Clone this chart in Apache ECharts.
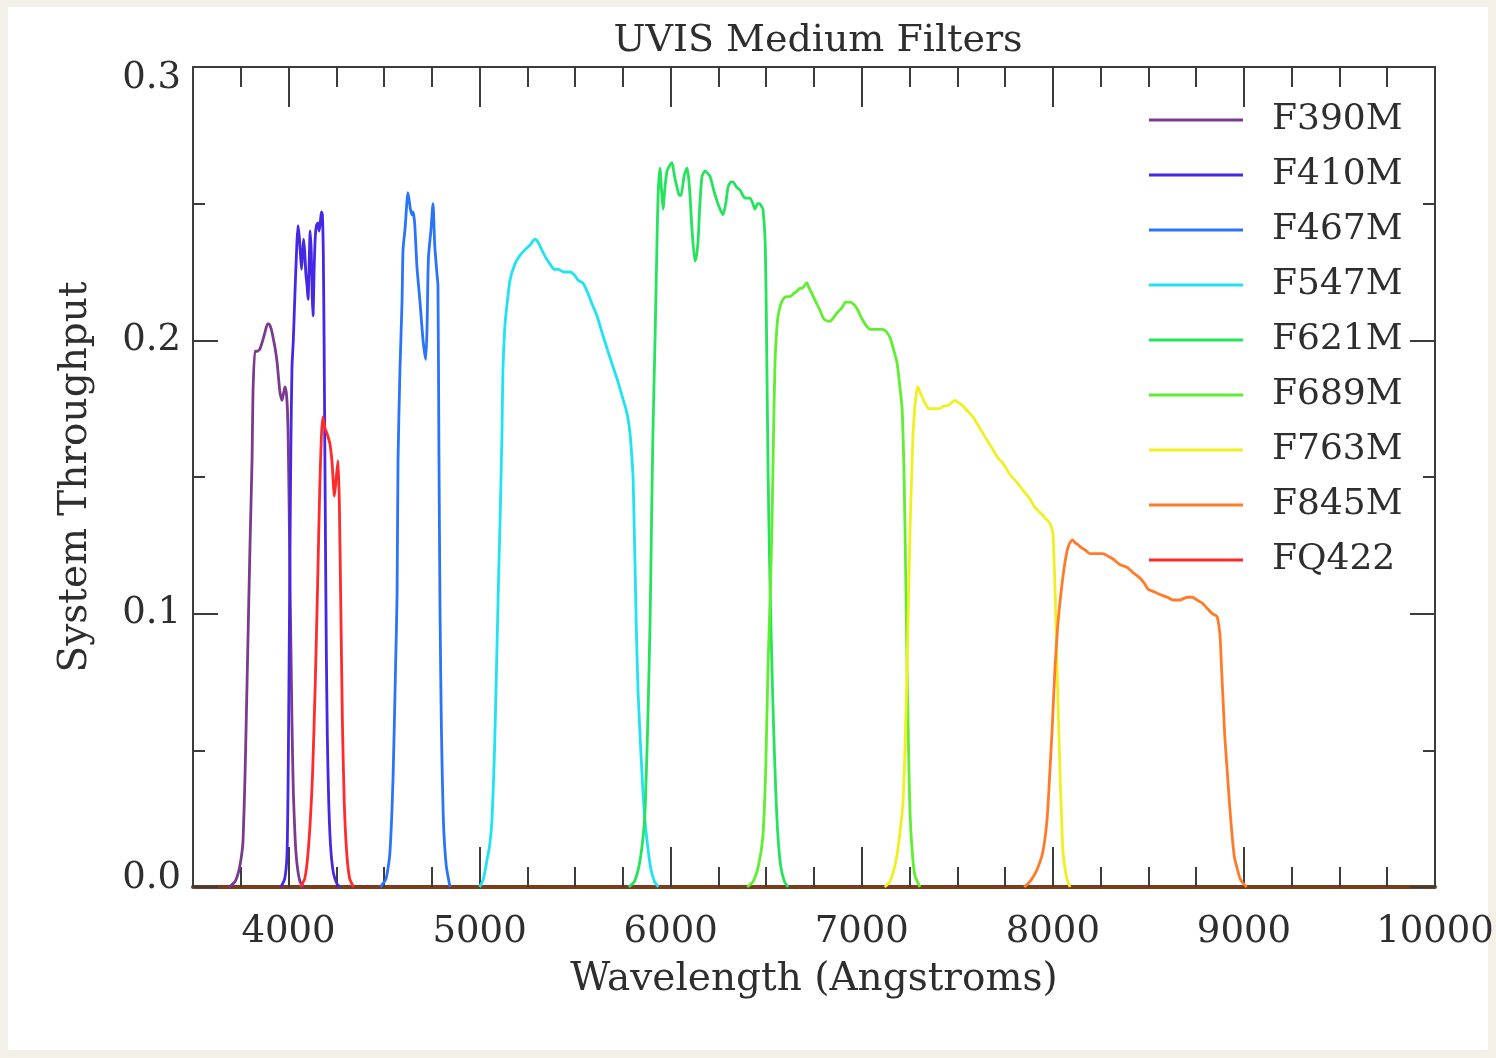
<!DOCTYPE html>
<html><head><meta charset="utf-8">
<script src="https://cdn.jsdelivr.net/npm/echarts@6/dist/echarts.min.js"></script>
<style>
html,body{margin:0;padding:0;background:#f3f0e8;}
#paper{position:absolute;left:8px;top:7px;width:1480px;height:1043px;background:#ffffff;}
#c{position:absolute;left:0;top:0;width:1496px;height:1058px;}
</style>
</head><body><div id="paper"></div><div id="c"></div><script>
// ---------- data ----------
const filterNames = ['F390M','F410M','F467M','F547M','F621M','F689M','F763M','F845M','FQ422'];
const filterColors = ['#7a3a8e','#4527e6','#2a74fa','#1fe3f0','#25e35c','#5fee30','#f0f020','#ff7b2a','#ff2b2b'];
const xMajorTicks = [4000,5000,6000,7000,8000,9000,10000];
const yTickLabels = ['0.0','0.1','0.2','0.3'];

const F390M = [[3690,0],[3720,0.002],[3740,0.006],[3755,0.012],[3762,0.017],[3772,0.04],[3783,0.075],[3798,0.124],[3809,0.156],[3814,0.181],[3824,0.196],[3837,0.196],[3851,0.197],[3865,0.2],[3877,0.203],[3890,0.206],[3898,0.206],[3910,0.204],[3919,0.201],[3930,0.197],[3940,0.192],[3955,0.181],[3966,0.178],[3975,0.181],[3981,0.183],[3988,0.181],[3994,0.175],[3998,0.165],[4003,0.14],[4008,0.11],[4013,0.085],[4018,0.06],[4025,0.035],[4035,0.017],[4045,0.008],[4060,0.002],[4080,0]];
const F410M = [[3960,0],[3980,0.003],[3992,0.012],[3998,0.04],[4005,0.1],[4012,0.16],[4018,0.19],[4025,0.2],[4030,0.21],[4036,0.222],[4044,0.236],[4050,0.242],[4056,0.238],[4062,0.232],[4068,0.226],[4074,0.232],[4079,0.237],[4085,0.232],[4091,0.224],[4097,0.22],[4102,0.215],[4108,0.228],[4113,0.24],[4119,0.232],[4124,0.216],[4128,0.209],[4134,0.226],[4140,0.238],[4146,0.242],[4154,0.243],[4160,0.24],[4166,0.243],[4172,0.247],[4177,0.246],[4182,0.232],[4186,0.2],[4190,0.16],[4194,0.12],[4198,0.085],[4203,0.055],[4210,0.032],[4220,0.015],[4235,0.005],[4255,0.001],[4270,0]];
const F467M = [[4480,0],[4510,0.003],[4530,0.012],[4547,0.04],[4560,0.08],[4568,0.107],[4573,0.156],[4583,0.189],[4594,0.214],[4599,0.233],[4610,0.241],[4625,0.254],[4638,0.248],[4646,0.246],[4651,0.247],[4660,0.243],[4672,0.227],[4688,0.214],[4704,0.2],[4718,0.193],[4725,0.205],[4732,0.23],[4746,0.241],[4756,0.25],[4765,0.235],[4776,0.225],[4782,0.22],[4787,0.16],[4793,0.1],[4800,0.058],[4810,0.025],[4825,0.008],[4845,0]];
const F547M = [[5000,0],[5020,0.003],[5039,0.01],[5052,0.015],[5065,0.025],[5078,0.05],[5091,0.088],[5100,0.115],[5107,0.134],[5117,0.166],[5122,0.189],[5132,0.205],[5143,0.213],[5159,0.222],[5185,0.228],[5210,0.231],[5235,0.233],[5265,0.235],[5290,0.237],[5305,0.236],[5326,0.233],[5348,0.23],[5368,0.228],[5390,0.226],[5410,0.226],[5440,0.225],[5473,0.225],[5495,0.224],[5515,0.222],[5540,0.221],[5562,0.218],[5590,0.213],[5614,0.209],[5640,0.203],[5667,0.197],[5695,0.191],[5719,0.186],[5740,0.181],[5761,0.176],[5775,0.172],[5787,0.166],[5796,0.158],[5803,0.15],[5808,0.135],[5813,0.119],[5820,0.095],[5829,0.072],[5840,0.055],[5850,0.041],[5862,0.027],[5876,0.017],[5895,0.007],[5915,0.002],[5935,0]];
const F621M = [[5780,0],[5810,0.002],[5835,0.008],[5855,0.018],[5866,0.028],[5880,0.06],[5892,0.097],[5900,0.135],[5907,0.166],[5918,0.2],[5926,0.228],[5934,0.253],[5944,0.263],[5952,0.255],[5960,0.248],[5970,0.256],[5981,0.262],[5995,0.264],[6007,0.265],[6020,0.26],[6033,0.256],[6045,0.253],[6054,0.253],[6070,0.26],[6085,0.263],[6093,0.26],[6101,0.253],[6112,0.24],[6127,0.229],[6135,0.231],[6143,0.236],[6153,0.25],[6164,0.26],[6180,0.262],[6195,0.261],[6206,0.26],[6225,0.255],[6242,0.251],[6258,0.248],[6274,0.246],[6288,0.25],[6300,0.256],[6315,0.258],[6326,0.258],[6345,0.256],[6363,0.255],[6389,0.252],[6415,0.252],[6430,0.25],[6441,0.248],[6455,0.25],[6467,0.25],[6475,0.249],[6483,0.248],[6495,0.235],[6502,0.2],[6510,0.15],[6520,0.11],[6530,0.08],[6540,0.055],[6550,0.035],[6560,0.02],[6575,0.008],[6595,0.002],[6615,0]];
const F689M = [[6400,0],[6431,0.002],[6460,0.008],[6483,0.019],[6498,0.045],[6509,0.08],[6520,0.105],[6530,0.132],[6538,0.165],[6546,0.192],[6554,0.203],[6562,0.209],[6575,0.213],[6588,0.215],[6605,0.216],[6624,0.216],[6642,0.217],[6661,0.218],[6675,0.219],[6687,0.219],[6700,0.22],[6713,0.221],[6725,0.219],[6740,0.217],[6760,0.214],[6781,0.211],[6800,0.208],[6823,0.207],[6835,0.207],[6849,0.208],[6870,0.21],[6897,0.212],[6915,0.214],[6938,0.214],[6960,0.213],[6980,0.211],[7000,0.208],[7027,0.205],[7045,0.204],[7059,0.204],[7085,0.204],[7111,0.204],[7130,0.203],[7148,0.201],[7165,0.197],[7184,0.192],[7198,0.184],[7211,0.175],[7220,0.155],[7226,0.132],[7232,0.105],[7237,0.08],[7245,0.05],[7252,0.028],[7265,0.012],[7279,0.004],[7305,0]];
const F763M = [[7120,0],[7148,0.002],[7180,0.01],[7200,0.02],[7216,0.031],[7228,0.055],[7237,0.08],[7245,0.105],[7252,0.129],[7260,0.148],[7268,0.165],[7278,0.176],[7289,0.182],[7294,0.183],[7305,0.181],[7318,0.179],[7331,0.177],[7350,0.175],[7368,0.175],[7390,0.175],[7409,0.175],[7430,0.176],[7446,0.176],[7467,0.177],[7488,0.178],[7510,0.177],[7530,0.176],[7555,0.174],[7582,0.172],[7608,0.169],[7634,0.166],[7660,0.163],[7687,0.16],[7712,0.157],[7739,0.155],[7775,0.151],[7812,0.148],[7845,0.145],[7880,0.142],[7905,0.139],[7933,0.137],[7960,0.135],[7985,0.133],[7995,0.131],[8001,0.129],[8006,0.12],[8011,0.11],[8017,0.095],[8022,0.08],[8030,0.06],[8037,0.043],[8045,0.027],[8053,0.013],[8070,0.004],[8090,0]];
const F845M = [[7850,0],[7880,0.002],[7915,0.006],[7948,0.013],[7970,0.025],[7985,0.043],[7998,0.06],[8011,0.08],[8025,0.095],[8037,0.104],[8050,0.112],[8064,0.119],[8078,0.124],[8090,0.126],[8103,0.127],[8116,0.126],[8135,0.125],[8153,0.124],[8175,0.123],[8194,0.122],[8230,0.122],[8262,0.122],[8290,0.121],[8315,0.12],[8350,0.118],[8388,0.117],[8420,0.115],[8456,0.113],[8480,0.111],[8498,0.109],[8530,0.108],[8561,0.107],[8600,0.106],[8629,0.105],[8665,0.105],[8702,0.106],[8730,0.106],[8755,0.105],[8780,0.104],[8807,0.102],[8835,0.1],[8859,0.099],[8868,0.096],[8875,0.092],[8883,0.08],[8891,0.068],[8900,0.055],[8912,0.043],[8925,0.03],[8938,0.019],[8950,0.011],[8964,0.007],[8980,0.003],[9000,0.001],[9015,0]];
const FQ422 = [[4060,0],[4085,0.003],[4105,0.015],[4125,0.04],[4140,0.075],[4152,0.11],[4163,0.145],[4172,0.165],[4180,0.172],[4190,0.168],[4201,0.166],[4217,0.162],[4228,0.155],[4240,0.143],[4250,0.15],[4259,0.156],[4266,0.14],[4274,0.1],[4282,0.06],[4292,0.03],[4305,0.012],[4320,0.003],[4340,0]];

const filterData = [F390M, F410M, F467M, F547M, F621M, F689M, F763M, F845M, FQ422];

// ---------- chart ----------
const FONT = '"DejaVu Serif", "Liberation Serif", serif';
const TXT = '#2e2e2e';
const FRAME = '#3c3c3c';
const tickLine = {color: FRAME, width: 2};
const chart = echarts.init(document.getElementById('c'), null, {renderer: 'canvas'});

function xAxisSet(pos, withLabels) {
  const minor = {
    type: 'value', position: pos, min: 3500, max: 10000, interval: 250,
    axisLine: {show: true, onZero: false, lineStyle: pos === 'bottom' ? {color: '#7b3c1c', width: 4} : {color: FRAME, width: 2}},
    axisTick: {show: true, inside: true, length: 20, lineStyle: tickLine},
    axisLabel: {show: false}, splitLine: {show: false}
  };
  const major = {
    type: 'value', position: pos, min: 3500, max: 10000,
    axisLine: {show: false, onZero: false},
    axisTick: {show: true, inside: true, length: 40, customValues: xMajorTicks, lineStyle: tickLine},
    axisLabel: withLabels ? {
      show: true, customValues: xMajorTicks, margin: 27,
      formatter: function (v) { return String(v); },
      fontFamily: FONT, fontSize: 37, color: TXT
    } : {show: false},
    splitLine: {show: false}
  };
  if (withLabels) {
    major.name = 'Wavelength (Angstroms)';
    major.nameLocation = 'middle';
    major.nameGap = 73;
    major.nameTextStyle = {fontFamily: FONT, fontSize: 39, color: TXT};
  }
  return [minor, major];
}

const labelRich = {
  n: {fontFamily: FONT, fontSize: 37, color: TXT},
  hi: {fontFamily: FONT, fontSize: 37, color: TXT, padding: [22, 0, 0, 0]},
  lo: {fontFamily: FONT, fontSize: 37, color: TXT, padding: [0, 0, 18, 0]}
};

function yAxisSet(pos, withLabels) {
  const ax = {
    type: 'value', position: pos, min: 0, max: 0.3, interval: 0.1,
    axisLine: {show: true, lineStyle: {color: FRAME, width: 2}},
    axisTick: {show: true, inside: true, length: 25, lineStyle: tickLine},
    minorTick: {show: true, splitNumber: 2, length: 12, lineStyle: tickLine},
    splitLine: {show: false}, minorSplitLine: {show: false},
    axisLabel: withLabels ? {
      show: true, margin: 12,
      formatter: function (v) {
        const i = Math.round(v * 10);
        const s = yTickLabels[i];
        if (i === 0) return '{lo|' + s + '}';
        if (i === 3) return '{hi|' + s + '}';
        return '{n|' + s + '}';
      },
      rich: labelRich
    } : {show: false}
  };
  if (withLabels) {
    ax.name = 'System Throughput';
    ax.nameLocation = 'middle';
    ax.nameGap = 98;
    ax.nameRotate = 90;
    ax.nameTextStyle = {fontFamily: FONT, fontSize: 39, color: TXT};
  }
  return ax;
}

const option = {
  backgroundColor: 'transparent',
  animation: false,
  title: {
    text: 'UVIS Medium Filters', left: 813, top: 17, textAlign: 'center',
    textStyle: {fontFamily: FONT, fontSize: 38, fontWeight: 'normal', color: TXT}
  },
  grid: {left: 193, right: 61, top: 67, bottom: 171, containLabel: false, outerBoundsMode: 'none'},
  legend: {
    orient: 'vertical', left: 1149, top: 100, padding: 0,
    itemWidth: 94, itemHeight: 3, itemGap: 15, icon: 'rect', selectedMode: false,
    textStyle: {fontFamily: FONT, fontSize: 36, color: TXT, lineHeight: 40, padding: [0, 0, 0, 24]},
    data: filterNames
  },
  xAxis: [].concat(xAxisSet('bottom', true), xAxisSet('top', false)),
  yAxis: [yAxisSet('left', true), yAxisSet('right', false)],
  series: filterNames.map(function (name, i) {
    return {
      type: 'line', name: name, data: filterData[i], color: filterColors[i],
      xAxisIndex: 0, yAxisIndex: 0,
      symbol: 'none', showSymbol: false, smooth: 0.2,
      lineStyle: {width: 2.8, color: filterColors[i]}
    };
  })
};
chart.setOption(option);
</script></body></html>
